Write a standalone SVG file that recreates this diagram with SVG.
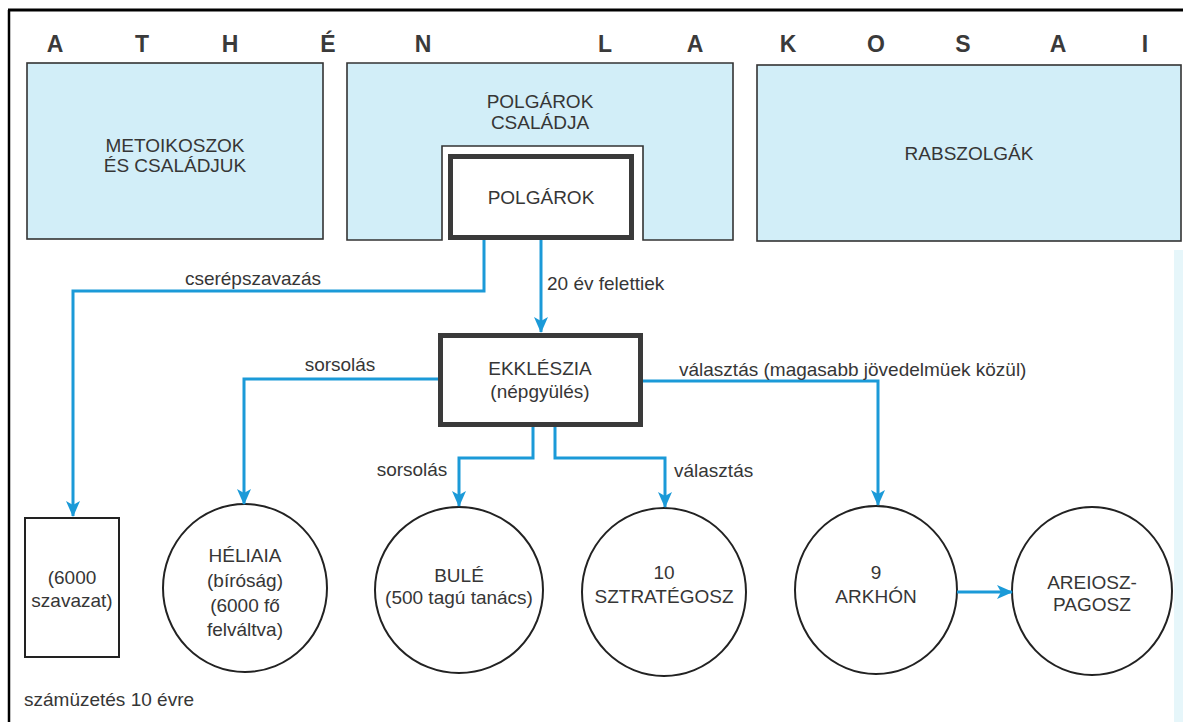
<svg xmlns="http://www.w3.org/2000/svg" width="1183" height="722" viewBox="0 0 1183 722">
<style>
  text { font-family: "Liberation Sans", Arial, sans-serif; font-size: 19px; fill: #363636; }
  .hdr { font-size: 23px; font-weight: bold; fill: #3a3a3a; text-anchor: middle; }
  .c { text-anchor: middle; }
  .pop { fill: #d2eef8; stroke: #333; stroke-width: 1.6; }
  .thick { fill: #fff; stroke: #3a3a3a; stroke-width: 5; }
  .org { fill: #fff; stroke: #222; stroke-width: 2; }
  .conn { fill: none; stroke: #1b9ad8; stroke-width: 3; }
</style>
<defs>
  <marker id="arr" markerUnits="userSpaceOnUse" markerWidth="18" markerHeight="16" refX="15" refY="7" orient="auto">
    <path d="M0,0 L16,7 L0,14 L4,7 Z" fill="#1b9ad8"/>
  </marker>
</defs>
<rect width="1183" height="722" fill="#fff"/>
<rect x="1174" y="250" width="9" height="472" fill="#e6f6fa"/>
<g id="frame">
  <line x1="8" y1="10" x2="1183" y2="10" stroke="#000" stroke-width="3"/>
  <line x1="9" y1="10" x2="9" y2="722" stroke="#000" stroke-width="2.5"/>
</g>
<g id="title">
  <text class="hdr" x="55" y="52">A</text>
  <text class="hdr" x="142" y="52">T</text>
  <text class="hdr" x="230" y="52">H</text>
  <text class="hdr" x="328" y="52">É</text>
  <text class="hdr" x="423" y="52">N</text>
  <text class="hdr" x="605" y="52">L</text>
  <text class="hdr" x="695" y="52">A</text>
  <text class="hdr" x="788" y="52">K</text>
  <text class="hdr" x="876" y="52">O</text>
  <text class="hdr" x="963" y="52">S</text>
  <text class="hdr" x="1058" y="52">A</text>
  <text class="hdr" x="1145" y="52">I</text>
</g>
<g id="metoikoszok">
  <rect class="pop" x="27" y="63" width="296" height="176"/>
  <text class="c" x="175" y="152">METOIKOSZOK</text>
  <text class="c" x="175" y="172">ÉS CSALÁDJUK</text>
</g>
<g id="polgarok-csaladja">
  <path class="pop" d="M347,63 H733 V240 H643 V146 H442 V240 H347 Z"/>
  <text class="c" x="540" y="108">POLGÁROK</text>
  <text class="c" x="540" y="129">CSALÁDJA</text>
</g>
<g id="rabszolgak">
  <rect class="pop" x="757" y="65" width="424" height="176"/>
  <text class="c" x="969" y="160">RABSZOLGÁK</text>
</g>
<g id="polgarok">
  <rect class="thick" x="450.5" y="156.5" width="181" height="81"/>
  <text class="c" x="541" y="204">POLGÁROK</text>
</g>
<g id="ekkleszia">
  <rect class="thick" x="440.5" y="335.5" width="200" height="89"/>
  <text class="c" x="540" y="375">EKKLÉSZIA</text>
  <text class="c" x="540" y="398">(népgyülés)</text>
</g>
<g id="szavazat">
  <rect class="org" x="25" y="518" width="94" height="139"/>
  <text class="c" x="72" y="584">(6000</text>
  <text class="c" x="72" y="607">szavazat)</text>
</g>
<g id="heliaia">
  <ellipse class="org" cx="245" cy="588" rx="82" ry="84"/>
  <text class="c" x="245" y="562">HÉLIAIA</text>
  <text class="c" x="245" y="587">(bíróság)</text>
  <text class="c" x="245" y="612">(6000 fő</text>
  <text class="c" x="245" y="636">felváltva)</text>
</g>
<g id="bule">
  <ellipse class="org" cx="459" cy="590" rx="84" ry="83"/>
  <text class="c" x="459" y="582">BULÉ</text>
  <text class="c" x="459" y="604">(500 tagú tanács)</text>
</g>
<g id="sztrategosz">
  <ellipse class="org" cx="664" cy="592" rx="82" ry="84"/>
  <text class="c" x="664" y="579">10</text>
  <text class="c" x="664" y="603">SZTRATÉGOSZ</text>
</g>
<g id="arkhon">
  <ellipse class="org" cx="876" cy="590" rx="81" ry="84"/>
  <text class="c" x="876" y="579">9</text>
  <text class="c" x="876" y="603">ARKHÓN</text>
</g>
<g id="areiosz">
  <ellipse class="org" cx="1092" cy="591" rx="80" ry="84"/>
  <text class="c" x="1092" y="589">AREIOSZ-</text>
  <text class="c" x="1092" y="611">PAGOSZ</text>
</g>
<g id="connectors">
  <path class="conn" d="M484,240 V291 H73 V516" marker-end="url(#arr)"/>
  <path class="conn" d="M541,240 V332" marker-end="url(#arr)"/>
  <path class="conn" d="M438,379 H244 V504" marker-end="url(#arr)"/>
  <path class="conn" d="M643,381 H878 V505" marker-end="url(#arr)"/>
  <path class="conn" d="M533,427 V458 H459 V506" marker-end="url(#arr)"/>
  <path class="conn" d="M555,427 V458 H665 V507" marker-end="url(#arr)"/>
  <path class="conn" d="M957,592 H1012" marker-end="url(#arr)"/>
</g>
<g id="labels">
  <text class="c" x="253" y="285">cserépszavazás</text>
  <text x="547" y="290">20 év felettiek</text>
  <text class="c" x="340" y="371">sorsolás</text>
  <text x="679" y="376">választás (magasabb jövedelmüek közül)</text>
  <text class="c" x="412" y="476">sorsolás</text>
  <text x="674" y="477">választás</text>
  <text x="24" y="706">számüzetés 10 évre</text>
</g>
</svg>
